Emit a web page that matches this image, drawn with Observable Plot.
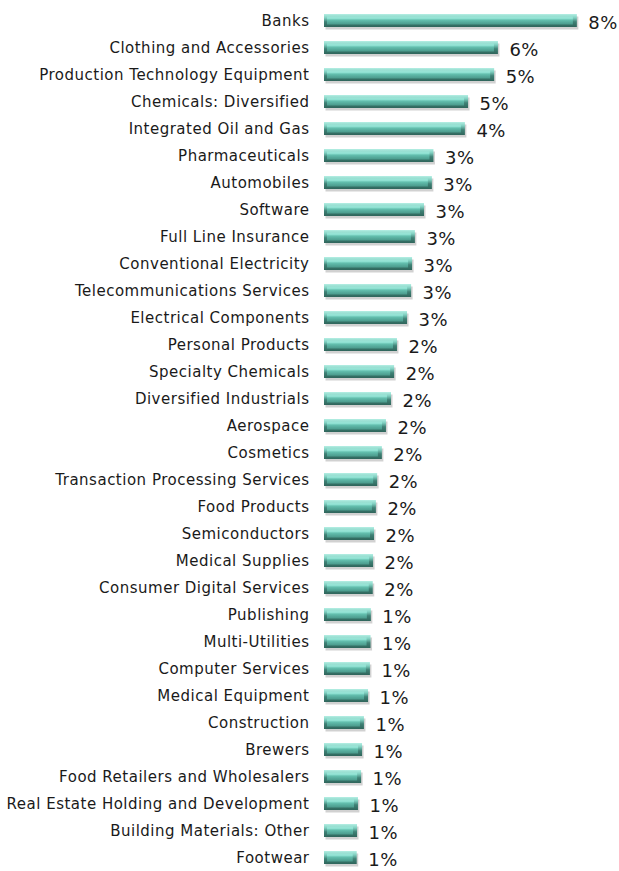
<!DOCTYPE html>
<html>
<head>
<meta charset="utf-8">
<script src="https://cdn.jsdelivr.net/npm/d3@7"></script>
<script src="https://cdn.jsdelivr.net/npm/@observablehq/plot@0.6"></script>
<style>
  html, body { margin: 0; padding: 0; background: #fff; }
  #chart svg { display: block; }
</style>
</head>
<body>
<div id="chart"></div>
<script>
const categories = [
  "Banks", "Clothing and Accessories", "Production Technology Equipment", "Chemicals: Diversified",
  "Integrated Oil and Gas", "Pharmaceuticals", "Automobiles", "Software", "Full Line Insurance",
  "Conventional Electricity", "Telecommunications Services", "Electrical Components", "Personal Products",
  "Specialty Chemicals", "Diversified Industrials", "Aerospace", "Cosmetics",
  "Transaction Processing Services", "Food Products", "Semiconductors", "Medical Supplies",
  "Consumer Digital Services", "Publishing", "Multi-Utilities", "Computer Services", "Medical Equipment",
  "Construction", "Brewers", "Food Retailers and Wholesalers", "Real Estate Holding and Development",
  "Building Materials: Other", "Footwear"
];
const values = [
  8.04, 5.53, 5.41, 4.58, 4.48, 3.48, 3.43, 3.18, 2.89, 2.80, 2.77, 2.64, 2.32, 2.23, 2.13, 1.97,
  1.84, 1.69, 1.65, 1.59, 1.56, 1.55, 1.49, 1.48, 1.46, 1.40, 1.27, 1.21, 1.18, 1.08, 1.05, 1.04
];
const valueLabels = [
  "8%", "6%", "5%", "5%", "4%", "3%", "3%", "3%", "3%", "3%", "3%", "3%", "2%", "2%", "2%", "2%",
  "2%", "2%", "2%", "2%", "2%", "2%", "1%", "1%", "1%", "1%", "1%", "1%", "1%", "1%", "1%", "1%"
];

const data = categories.map((c, i) => ({ category: c, value: values[i], label: valueLabels[i] }));

const defs = () => {
  const g = d3.create("svg:defs");
  const grad = g.append("linearGradient").attr("id", "barFace").attr("x1", 0).attr("y1", 0).attr("x2", 0).attr("y2", 1);
  [["0%", "#9fe6d9"], ["25%", "#8ee0d1"], ["45%", "#63bfae"], ["80%", "#52a596"], ["100%", "#4a9a8b"]]
    .forEach(([o, c]) => grad.append("stop").attr("offset", o).attr("stop-color", c));
  const base = g.append("linearGradient").attr("id", "barBase").attr("x1", 0).attr("y1", 0).attr("x2", 0).attr("y2", 1);
  [["0%", "#b5efe4"], ["30%", "#7fcfc0"], ["60%", "#3f8276"], ["100%", "#2f655b"]]
    .forEach(([o, c]) => base.append("stop").attr("offset", o).attr("stop-color", c));
  return g.node();
};

const chart = Plot.plot({
  width: 619,
  height: 871,
  marginLeft: 324,
  marginRight: 0,
  marginTop: 0,
  marginBottom: 0,
  style: { fontFamily: "'DejaVu Sans', Verdana, sans-serif", color: "#1a1a1a", background: "#fff", letterSpacing: "0.5px" },
  x: { domain: [0, 9.38], axis: null },
  y: { domain: categories, range: [3.5, 874], paddingInner: 0.52, paddingOuter: 0.26, label: null, axis: null },
  marks: [
    defs,
    Plot.barX(data, { x: "value", y: "category", fill: "#9a9a9a", fillOpacity: 0.45, dx: 1.5, dy: 2.5 }),
    Plot.barX(data, { x: "value", y: "category", fill: "url(#barBase)" }),
    Plot.barX(data, { x: "value", y: "category", fill: "url(#barFace)", insetTop: 2.5, insetBottom: 2.5, insetLeft: 3, insetRight: 4 }),
    Plot.ruleX(data, { x: "value", y: "category", stroke: "#2f6a60", strokeWidth: 3, dx: -1.5 }),
    Plot.ruleX(data, { x: 0, y: "category", stroke: "#4f9e90", strokeWidth: 2, dx: 1, insetTop: 1.5, insetBottom: 1.5 }),
    Plot.axisY({ tickSize: 0, tickPadding: 15, fontSize: 15, label: null, fill: "#1a1a1a" }),
    Plot.text(data, { x: "value", y: "category", text: "label", dx: 11, dy: 2.5, textAnchor: "start", fontSize: 18, fill: "#1a1a1a" })
  ]
});
document.getElementById("chart").appendChild(chart);
</script>
</body>
</html>
